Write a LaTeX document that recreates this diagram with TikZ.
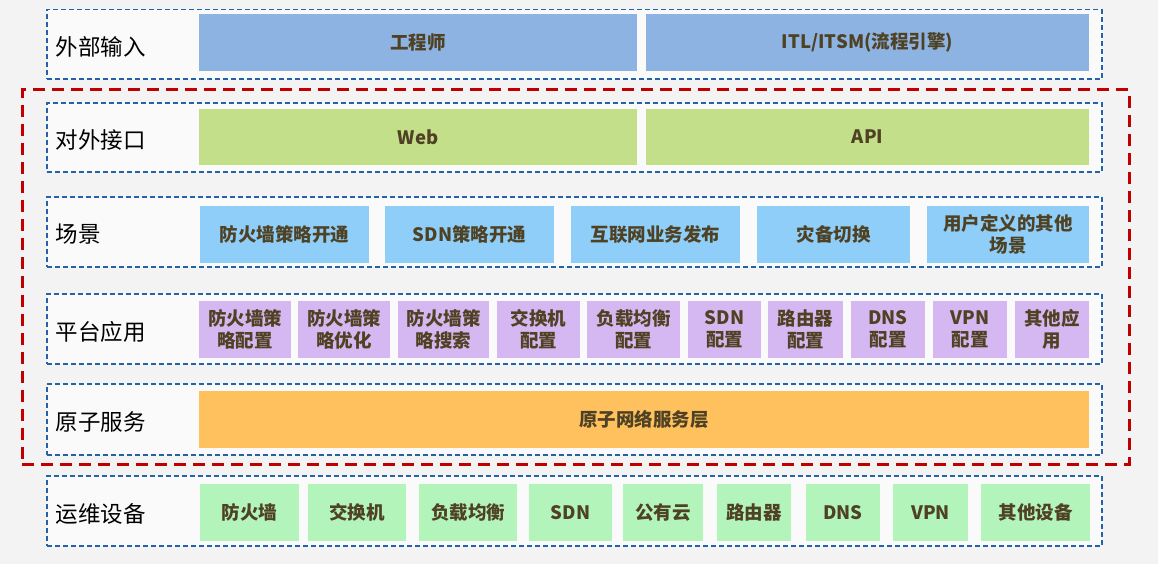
\documentclass[tikz,border=0pt]{standalone}
\usepackage{fontspec}
\setmainfont{Noto Sans CJK SC}
\definecolor{bg}{HTML}{F3F3F3}
\definecolor{rowblue}{HTML}{2463A8}
\definecolor{corered}{HTML}{C00000}
\definecolor{txt}{HTML}{4F4224}
\definecolor{infill}{HTML}{8DB3E2}
\definecolor{apifill}{HTML}{C3DF8A}
\definecolor{scnfill}{HTML}{8ECEF9}
\definecolor{appfill}{HTML}{D5B8F1}
\definecolor{atomfill}{HTML}{FFC15E}
\definecolor{devfill}{HTML}{B3F4BA}
\begin{document}
\begin{tikzpicture}[x=1pt,y=-1pt,
    row/.style={draw=rowblue,line width=1.2pt,dash pattern=on 5pt off 3pt,fill=white!55!bg,
        minimum width=1055pt,inner sep=0pt},
    lab/.style={anchor=west,inner sep=0pt,font=\fontsize{22.5}{26}\selectfont},
    blk/.style={inner sep=0pt,align=center,text=txt,minimum height=57pt,
        font=\bfseries\fontsize{18.5}{21.5}\selectfont}]
    \useasboundingbox[fill=bg] (0,0) rectangle (1158,564);
    \foreach \n/\y/\h/\t in {rin/44.25/69.5/外部输入,rapi/137.5/69/对外接口,rscn/232/70/场景,
        rapp/329/70/平台应用,ratom/419.5/71/原子服务,rdev/511/70/运维设备} {
        \node [row,minimum height=\h pt] (\n) at (574.4,\y) {};
        \node [lab] (\n-lab) at ([xshift=9.3pt,yshift=-2.5pt]\n.west) {\t};
    }
    \node [draw=corered,line width=3pt,dash pattern=on 12pt off 7pt,inner sep=0pt,
        minimum width=1107pt,minimum height=374pt] (core) at (575.5,277) {};
    \node [blk,fill=infill,minimum width=438pt] (eng) at (418,42.5) {工程师};
    \node [blk,fill=infill,minimum width=443pt] (itsm) at (867.5,42.5) {ITL/ITSM(流程引擎)};
    \node [blk,fill=apifill,minimum width=438pt,minimum height=56pt] (web) at (418,137) {Web};
    \node [blk,fill=apifill,minimum width=443pt,minimum height=56pt] (api) at (867.5,137) {API};
    \foreach \x/\w/\t [count=\i] in {284.5/169/防火墙策略开通,469.5/169/SDN策略开通,
        655.5/169/互联网业务发布,833.5/153/灾备切换,1008/162/{用户定义的其他\\场景}}
        \node [blk,fill=scnfill,minimum width=\w pt] (scn\i) at (\x,234.5) {\t};
    \foreach \x/\w/\t [count=\i] in {245/92/{防火墙策\\略配置},344/92/{防火墙策\\略优化},
        443.5/91/{防火墙策\\略搜索},538.5/83/{交换机\\配置},633.5/93/{负载均衡\\配置},
        724.5/73/{SDN\\配置},805.5/75/{路由器\\配置},888/74/{DNS\\配置},
        970/74/{VPN\\配置},1052/74/{其他应\\用}}
        \node [blk,fill=appfill,minimum width=\w pt] (app\i) at (\x,329.5) {\t};
    \node [blk,fill=atomfill,minimum width=890pt] (atom) at (644,419.5) {原子网络服务层};
    \foreach \x/\w/\t [count=\i] in {249.5/99/防火墙,357/98/交换机,468/98/负载均衡,
        570.5/83/SDN,663/80/公有云,754/74/路由器,843/74/DNS,930.5/75/VPN,1035.5/109/其他设备}
        \node [blk,fill=devfill,minimum width=\w pt] (dev\i) at (\x,512.5) {\t};
\end{tikzpicture}
\end{document}
